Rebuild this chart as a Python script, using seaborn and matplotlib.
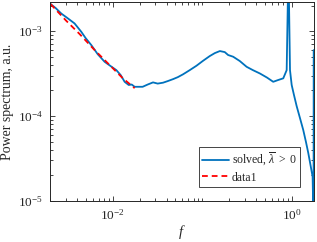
import numpy as np
import pandas as pd
import matplotlib
matplotlib.use("Agg")
import matplotlib.pyplot as plt
import matplotlib.ticker as mticker
import seaborn as sns

# ---- data ----
solved_f = [2.03e-3, 2.31e-3, 2.67e-3, 3.14e-3, 3.76e-3, 4.47e-3, 4.99e-3, 5.78e-3,
            6.80e-3, 8.14e-3, 9.5e-3, 1.10e-2, 1.23e-2, 1.36e-2, 1.51e-2, 1.63e-2,
            1.76e-2, 2.16e-2, 2.46e-2, 2.82e-2, 3.18e-2, 3.65e-2, 4.12e-2, 4.72e-2,
            5.33e-2, 6.10e-2, 7.24e-2, 8.61e-2, 0.101, 0.121, 0.138, 0.157, 0.178,
            0.194, 0.221, 0.262, 0.312, 0.367, 0.439, 0.526, 0.618, 0.698, 0.800,
            0.873, 0.914, 0.951, 0.993, 1.053, 1.128, 1.229, 1.337, 1.433, 1.521,
            1.61, 1.70, 1.742, 1.748]
solved_p = [2.08e-3, 1.87e-3, 1.61e-3, 1.42e-3, 1.23e-3, 9.8e-4, 8.28e-4, 6.84e-4,
            5.36e-4, 4.35e-4, 3.87e-4, 3.47e-4, 3.03e-4, 2.53e-4, 2.32e-4, 2.35e-4,
            2.21e-4, 2.21e-4, 2.35e-4, 2.49e-4, 2.41e-4, 2.47e-4, 2.58e-4, 2.72e-4,
            2.87e-4, 3.10e-4, 3.47e-4, 3.91e-4, 4.44e-4, 5.08e-4, 5.51e-4, 5.82e-4, 5.66e-4,
            5.23e-4, 4.99e-4, 4.44e-4, 3.80e-4, 3.47e-4, 3.17e-4, 2.84e-4, 2.53e-4, 2.65e-4, 2.78e-4,
            3.47e-4, 6.0e-3, 3.47e-4, 2.32e-4, 1.77e-4, 1.31e-4, 9.46e-5, 6.84e-5, 4.95e-5, 3.67e-5,
            2.65e-5, 1.93e-5, 5.0e-6, 5.97e-4]

fit_f = [2.03e-3, 3.04e-3, 4.28e-3, 6.18e-3, 8.86e-3, 1.30e-2, 1.76e-2]
fit_p = [2.08e-3, 1.32e-3, 9.23e-4, 6.10e-4, 4.17e-4, 2.78e-4, 2.13e-4]

labels = [r"solved, $\overline{\lambda}\ >\ 0$", "data1"]
colors = ["#0072BD", "#FF0000"]

sns.set_style("ticks")
plt.rcParams["font.family"] = ["Liberation Serif", "DejaVu Serif"]
plt.rcParams["mathtext.fontset"] = "custom"
plt.rcParams["mathtext.rm"] = "Liberation Serif"
plt.rcParams["mathtext.it"] = "Liberation Serif:italic"
plt.rcParams["mathtext.bf"] = "Liberation Serif:bold"

df1 = pd.DataFrame({"f": solved_f, "P": solved_p})
df2 = pd.DataFrame({"f": fit_f, "P": fit_p})

fig = plt.figure(figsize=(3.17, 2.42), dpi=100)
ax = fig.add_axes([50 / 317, 1 - 201 / 242, 263.7 / 317, 199 / 242])

sns.lineplot(data=df1, x="f", y="P", ax=ax, color=colors[0], lw=1.3,
             estimator=None, sort=False, label=labels[0])
sns.lineplot(data=df2, x="f", y="P", ax=ax, color=colors[1], lw=1.3,
             linestyle=(0, (3.2, 2.2)), estimator=None, sort=False, label=labels[1])

ax.set_xscale("log")
ax.set_yscale("log")
ax.set_xlim(2.0e-3, 1.748)
ax.set_ylim(1e-5, 2.2e-3)

ax.xaxis.set_major_locator(mticker.FixedLocator([1e-2, 1e0]))
ax.xaxis.set_major_formatter(mticker.LogFormatterMathtext())
ax.xaxis.set_minor_locator(mticker.LogLocator(base=10, subs=np.arange(1, 10), numticks=20))
ax.xaxis.set_minor_formatter(mticker.NullFormatter())
ax.yaxis.set_major_locator(mticker.FixedLocator([1e-5, 1e-4, 1e-3]))
ax.yaxis.set_major_formatter(mticker.LogFormatterMathtext())
ax.yaxis.set_minor_locator(mticker.LogLocator(base=10, subs=np.arange(2, 10), numticks=20))
ax.yaxis.set_minor_formatter(mticker.NullFormatter())

ax.tick_params(which="both", direction="in", top=True, right=True,
               colors="#262626", labelsize=9.5, width=0.6)
ax.tick_params(which="major", length=3.5, pad=5)
ax.tick_params(which="minor", length=2)
for s in ax.spines.values():
    s.set_color("#262626")
    s.set_linewidth(0.7)

ax.set_xlabel(r"$f$", fontsize=10.5, color="#262626", labelpad=0)
ax.set_ylabel("Power spectrum, a.u.", fontsize=10, color="#262626", labelpad=3)

leg = ax.legend(loc="lower right", bbox_to_anchor=(0.948, 0.07), borderaxespad=0,
                fontsize=8.5, frameon=True, fancybox=False, framealpha=1,
                edgecolor="#262626", handlelength=2.3, handletextpad=0.2,
                borderpad=0.3, labelspacing=0.3)
leg.get_frame().set_linewidth(0.6)

fig.savefig("out.png", dpi=100)
